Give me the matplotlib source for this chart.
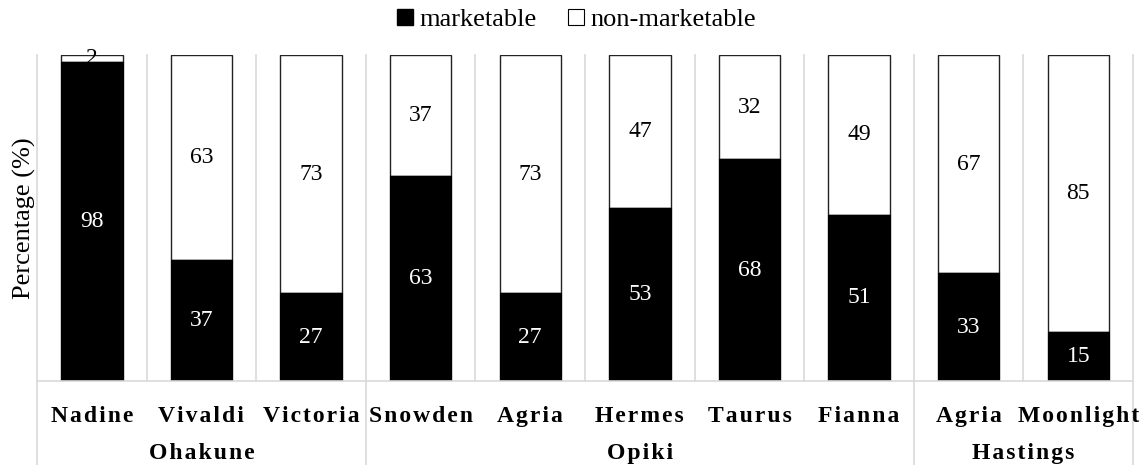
import matplotlib
matplotlib.use("Agg")
import matplotlib.pyplot as plt
from matplotlib.lines import Line2D

plt.rcParams["font.family"] = ["Liberation Serif", "DejaVu Serif"]

cultivars = ["Nadine", "Vivaldi", "Victoria", "Snowden", "Agria",
             "Hermes", "Taurus", "Fianna", "Agria", "Moonlight"]
regions = ["Ohakune", "Opiki", "Hastings"]
region_sizes = [3, 5, 2]
marketable = [98, 37, 27, 63, 27, 53, 68, 51, 33, 15]
non_marketable = [2, 63, 73, 37, 73, 47, 32, 49, 67, 85]

GRID = "#d9d9d9"


def spaced(word):
    # wide letter spacing on the category axis
    return "\u200a".join(word)


fig = plt.figure(figsize=(11.43, 4.65), dpi=100)
ax = fig.add_axes([0.0324, 0.1806, 0.9589, 0.7011])

x = list(range(len(cultivars)))
width = 0.56

# white part sits behind its labels, black part covers both
ax.bar(x, non_marketable, width, bottom=marketable, color="white",
       edgecolor="#222222", linewidth=1, zorder=1)
for i in x:
    ax.text(i, marketable[i] + non_marketable[i] / 2, str(non_marketable[i]),
            ha="center", va="center", fontsize=17, color="black", zorder=1.5)
ax.bar(x, marketable, width, color="black", edgecolor="black",
       linewidth=1, zorder=2)
for i in x:
    ax.text(i, marketable[i] / 2, str(marketable[i]),
            ha="center", va="center", fontsize=17, color="white", zorder=3)

ax.set_xlim(-0.5, len(cultivars) - 0.5)
ax.set_ylim(0, 100)
ax.set_xticks([])
ax.set_yticks([])
for side in ["top", "right", "left"]:
    ax.spines[side].set_visible(False)
ax.spines["bottom"].set_color(GRID)
ax.spines["bottom"].set_linewidth(1.2)

# separators between cultivars, longer ones between regions
trans = ax.get_xaxis_transform()
edges = [0]
for n in region_sizes:
    edges.append(edges[-1] + n)
for k in range(len(cultivars) + 1):
    xb = k - 0.5
    y0 = -0.26 if k in edges else 0
    ax.plot([xb, xb], [y0, 1], color=GRID, linewidth=1.2,
            transform=trans, clip_on=False, zorder=0)

for i, name in enumerate(cultivars):
    ax.text(i, -0.11, spaced(name), transform=trans, ha="center",
            va="center", fontsize=17, fontweight="bold")
for r, name in enumerate(regions):
    mid = (edges[r] + edges[r + 1] - 1) / 2
    ax.text(mid, -0.222, spaced(name), transform=trans, ha="center",
            va="center", fontsize=17, fontweight="bold")

ax.set_ylabel("Percentage (%)", fontsize=19, labelpad=1)

handles = [
    Line2D([], [], marker="s", linestyle="none", markersize=12,
           markerfacecolor="black", markeredgecolor="black"),
    Line2D([], [], marker="s", linestyle="none", markersize=12,
           markerfacecolor="white", markeredgecolor="black",
           markeredgewidth=0.8),
]
fig.legend(handles, ["marketable", "non-marketable"], loc="center",
           bbox_to_anchor=(0.502, 0.958), ncol=2, frameon=False,
           fontsize=19, handletextpad=0.05, columnspacing=1.0,
           handlelength=1.0)

fig.savefig("out.png", dpi=100)
